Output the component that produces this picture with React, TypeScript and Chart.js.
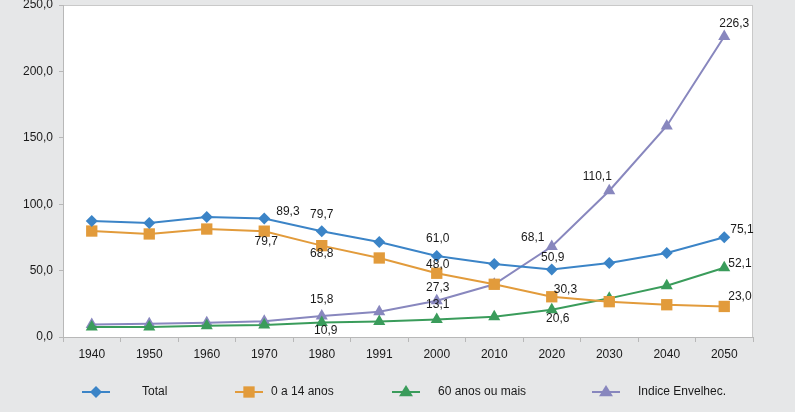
import React, { useEffect, useRef } from "react";
import { Chart, registerables } from "chart.js";

Chart.register(...registerables);

const years = ["1940", "1950", "1960", "1970", "1980", "1991", "2000", "2010", "2020", "2030", "2040", "2050"];
const total = [87.3, 85.8, 90.4, 89.3, 79.7, 71.5, 61.0, 55.0, 50.9, 55.7, 63.2, 75.1];
const age0to14 = [79.8, 77.6, 81.3, 79.7, 68.8, 59.5, 48.0, 39.7, 30.3, 26.6, 24.3, 23.0];
const age60plus = [7.5, 7.6, 8.4, 9.0, 10.9, 11.6, 13.1, 15.3, 20.6, 29.1, 38.6, 52.1];
const agingIndex = [9.5, 9.9, 10.8, 11.8, 15.8, 19.1, 27.3, 39.7, 68.1, 110.1, 158.9, 226.3];
const seriesNames = ["Total", "0 a 14 anos", "60 anos ou mais", "Indice Envelhec."];
const yTicks = [0, 50, 100, 150, 200, 250];

// label placement: [seriesIndex, pointIndex, dx, dy, align]
const LABELS: [number, number, number, number, CanvasTextAlign][] = [
  [0, 3, 12, -7, "left"],
  [0, 4, 0, -16, "center"],
  [0, 6, 1, -17, "center"],
  [0, 8, 1, -12, "center"],
  [0, 11, 6, -8, "left"],
  [1, 3, 2, 11, "center"],
  [1, 4, 0, 8, "center"],
  [1, 6, 1, -9, "center"],
  [1, 8, 2, -7, "left"],
  [1, 11, 4, -10, "left"],
  [2, 4, 4, 8, "center"],
  [2, 6, 1, -15, "center"],
  [2, 8, 6, 9, "center"],
  [2, 11, 4, -4, "left"],
  [3, 4, 0, -16, "center"],
  [3, 6, 1, -13, "center"],
  [3, 8, -19, -9, "center"],
  [3, 9, -12, -14, "center"],
  [3, 11, 10, -13, "center"],
];

const COLORS = ["#3b84c7", "#e29b3b", "#3a9c5b", "#8887be"];
const STYLES = ["rectRot", "rect", "triangle", "triangle"];
const RADII = [6, 8, 7, 7];

const fmt = (v: number) => v.toFixed(1).replace(".", ",");

function drawMarker(ctx: CanvasRenderingContext2D, style: string, r: number, x: number, y: number) {
  ctx.beginPath();
  if (style === "rectRot") {
    ctx.moveTo(x, y - r);
    ctx.lineTo(x + r, y);
    ctx.lineTo(x, y + r);
    ctx.lineTo(x - r, y);
  } else if (style === "rect") {
    const s = r * Math.SQRT1_2;
    ctx.rect(x - s, y - s, 2 * s, 2 * s);
  } else {
    const w = r * 0.866 * 1.15;
    ctx.moveTo(x, y - r);
    ctx.lineTo(x + w, y + r * 0.6);
    ctx.lineTo(x - w, y + r * 0.6);
  }
  ctx.closePath();
  ctx.fill();
}

export default function App() {
  const ref = useRef<HTMLCanvasElement>(null);
  useEffect(() => {
    const all = [total, age0to14, age60plus, agingIndex];
    const bgPlugin = {
      id: "bg",
      beforeDraw(chart: any) {
        const { ctx, chartArea: a } = chart;
        ctx.save();
        ctx.fillStyle = "#e6e7e8";
        ctx.fillRect(0, 0, chart.width, chart.height);
        ctx.fillStyle = "#ffffff";
        ctx.fillRect(a.left, a.top, a.right - a.left, a.bottom - a.top);
        ctx.strokeStyle = "#c9c9c9";
        ctx.lineWidth = 1;
        ctx.strokeRect(a.left + 0.5, a.top + 0.5, a.right - a.left - 1, a.bottom - a.top);
        ctx.restore();
      },
    };
    const labelPlugin = {
      id: "labels",
      afterDatasetsDraw(chart: any) {
        const { ctx } = chart;
        ctx.save();
        ctx.font = "12px 'Liberation Sans', Arial, sans-serif";
        ctx.fillStyle = "#1a1a1a";
        ctx.textBaseline = "middle";
        for (const [s, i, dx, dy, align] of LABELS) {
          const el = chart.getDatasetMeta(s).data[i];
          if (!el) continue;
          ctx.textAlign = align;
          ctx.fillText(fmt(all[s][i]), el.x + dx, el.y + dy);
        }
        ctx.restore();
      },
    };
    const legendPlugin = {
      id: "customLegend",
      afterDraw(chart: any) {
        const { ctx } = chart;
        const lineX = [82, 235, 392, 592];
        const textX = [142, 271, 438, 638];
        const y = 392;
        ctx.save();
        ctx.font = "12px 'Liberation Sans Narrow', 'Arial Narrow', Arial, sans-serif";
        ctx.textBaseline = "middle";
        ctx.textAlign = "left";
        seriesNames.forEach((name, k) => {
          const x0 = lineX[k];
          ctx.strokeStyle = COLORS[k];
          ctx.lineWidth = 2;
          ctx.beginPath();
          ctx.moveTo(x0, y);
          ctx.lineTo(x0 + 28, y);
          ctx.stroke();
          ctx.fillStyle = COLORS[k];
          drawMarker(ctx, STYLES[k], RADII[k], x0 + 14, y);
          ctx.fillStyle = "#1a1a1a";
          ctx.fillText(name, textX[k], y);
        });
        ctx.restore();
      },
    };
    const chart = new Chart(ref.current!, {
      type: "line",
      data: {
        labels: years,
        datasets: all.map((d, k) => ({
          label: seriesNames[k],
          data: d,
          borderColor: COLORS[k],
          backgroundColor: COLORS[k],
          borderWidth: 2,
          pointStyle: STYLES[k] as any,
          pointRadius: RADII[k],
          pointBorderWidth: 0,
          pointBackgroundColor: COLORS[k],
          tension: 0,
          clip: false as any,
        })),
      },
      options: {
        animation: false,
        responsive: false,
        devicePixelRatio: 1,
        layout: { autoPadding: false, padding: { top: 5, right: 42, left: 0, bottom: 0 } },
        plugins: { legend: { display: false }, tooltip: { enabled: false } },
        scales: {
          x: {
            offset: true,
            grid: { offset: true, drawOnChartArea: false, tickLength: 5, color: "#b8b8b8" },
            border: { color: "#b8b8b8" },
            ticks: { color: "#1a1a1a", font: { size: 12, family: "'Liberation Sans', Arial, sans-serif" }, padding: 5 },
            afterFit: (s: any) => { s.height = 75; s.paddingLeft = 0; s.paddingRight = 0; },
          },
          y: {
            min: 0,
            max: 250,
            afterBuildTicks: (s: any) => { s.ticks = yTicks.map((v) => ({ value: v })); },
            grid: { drawOnChartArea: false, tickLength: 4, color: "#b8b8b8" },
            border: { color: "#b8b8b8" },
            ticks: { color: "#1a1a1a", font: { size: 12, family: "'Liberation Sans', Arial, sans-serif" }, padding: 6, callback: (v: any) => fmt(Number(v)) },
            afterFit: (s: any) => { s.width = 63; s.paddingTop = 0; s.paddingBottom = 0; },
          },
        },
      },
      plugins: [bgPlugin, labelPlugin, legendPlugin],
    });
    return () => chart.destroy();
  }, []);
  return (
    <div style={{ position: "fixed", left: 0, top: 0, width: 795, height: 412, background: "#e6e7e8" }}>
      <canvas ref={ref} width={795} height={412} style={{ display: "block", width: 795, height: 412 }} />
    </div>
  );
}
